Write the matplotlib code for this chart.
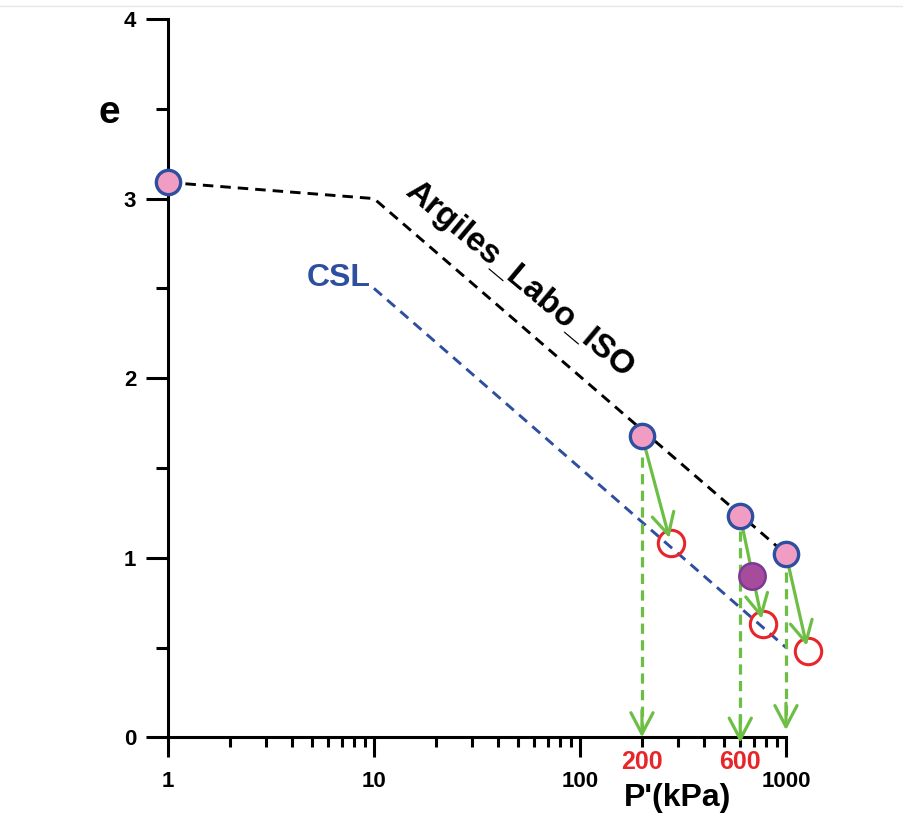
import matplotlib.pyplot as plt
from matplotlib.lines import Line2D

plt.rcParams['font.family'] = ['Liberation Sans', 'DejaVu Sans']
plt.rcParams['font.weight'] = 'bold'

# isotropic compression line (Argiles_Labo_ISO)
iso_p = [1, 10, 1000]
iso_e = [3.09, 3.0, 1.02]
# critical state line
csl_p = [10, 1000]
csl_e = [2.5, 0.5]
# consolidation states (pink)
cons_p = [1, 200, 600, 1000]
cons_e = [3.09, 1.68, 1.23, 1.02]
# end of shear (red open circles)
end_p = [276, 772, 1278]
end_e = [1.08, 0.63, 0.48]
# extra point (purple)
extra_p = [682]
extra_e = [0.90]
# dashed projections to the p axis
proj_p = [200, 600, 1000]
proj_top = [1.56, 1.15, 0.92]
proj_tip = [0.0, -0.03, 0.04]
proj_labels = ['200', '600']

xticks = [1, 10, 100, 1000]
xticklabels = ['1', '10', '100', '1000']
yticks = [0, 1, 2, 3, 4]

green = '#6DBE45'
blue = '#2E4FA0'
red = '#E8262A'
head = '->,head_length=0.8,head_width=0.42'

fig = plt.figure(figsize=(9.04, 8.16), dpi=100)
ax = fig.add_axes([0.1858, 0.09645, 0.68363, 0.88027])
ax.set_xscale('log')
ax.set_xlim(1, 1000)
ax.set_ylim(0, 4)

ax.plot(iso_p, iso_e, color='black', lw=2.1, ls=(0, (3.6, 2.4)), clip_on=False, zorder=2)
ax.plot(csl_p, csl_e, color=blue, lw=2.1, ls=(0, (3.6, 2.4)), clip_on=False, zorder=2)

# vertical dashed projections
for p, top, tip in zip(proj_p, proj_top, proj_tip):
    ax.plot([p, p], [top, tip + 0.03], color=green, lw=2.3, ls=(0, (3.2, 2.0)),
            clip_on=False, zorder=3)
    ax.annotate('', xy=(p, tip), xytext=(p, tip + 0.15), annotation_clip=False,
                arrowprops=dict(arrowstyle=head, mutation_scale=19, color=green, lw=2.3,
                                shrinkA=0, shrinkB=0), zorder=3)

# shear paths
for p0, e0, p1, e1 in zip(cons_p[1:], cons_e[1:], end_p, end_e):
    ax.annotate('', xy=(p1, e1), xytext=(p0, e0), annotation_clip=False,
                arrowprops=dict(arrowstyle=head, mutation_scale=19, color=green, lw=2.3,
                                shrinkA=9, shrinkB=-4), zorder=5)

ax.plot(end_p, end_e, 'o', ms=19, mfc='none', mec=red, mew=2.2, clip_on=False, zorder=4)
ax.plot(extra_p, extra_e, 'o', ms=19, mfc='#A74C9D', mec='#7B3A95', mew=1.8,
        clip_on=False, zorder=6)
ax.plot(cons_p, cons_e, 'o', ms=17.5, mfc='#F19CC3', mec=blue, mew=2.4,
        clip_on=False, zorder=6)

for p, lab in zip(proj_p, proj_labels):
    ax.text(p, -0.135, lab, color=red, fontsize=18, fontweight='bold',
            ha='center', va='center')

fig.text(519 / 904, 1 - 280 / 816, 'Argiles_Labo_ISO', rotation=-40,
         rotation_mode='anchor', fontsize=24, fontweight='bold',
         ha='center', va='center')
ax.text(9.6, 2.56, 'CSL', color=blue, fontsize=23, fontweight='bold',
        ha='right', va='center')

ax.spines['top'].set_visible(False)
ax.spines['right'].set_visible(False)
for s in ['left', 'bottom']:
    ax.spines[s].set_linewidth(2.2)

ax.set_xticks(xticks)
ax.set_xticklabels(xticklabels)
ax.set_yticks(yticks)
ax.set_yticks([0.5, 1.5, 2.5, 3.5], minor=True)
ax.tick_params(axis='x', which='major', length=14.4, width=2.2, pad=10, labelsize=16)
ax.tick_params(axis='x', which='minor', length=7.2, width=2.2)
ax.tick_params(axis='y', which='major', length=15.8, width=2.2, pad=7, labelsize=16)
ax.tick_params(axis='y', which='minor', length=8.6, width=2.2)
for lab in ax.get_xticklabels() + ax.get_yticklabels():
    lab.set_fontweight('bold')

fig.text(109 / 904, 1 - 113 / 816, 'e', fontsize=28, fontweight='bold',
         ha='center', va='center')
fig.text(678 / 904, 1 - 798 / 816, "P'(kPa)", fontsize=23, fontweight='bold',
         ha='center', va='center')

fig.add_artist(Line2D([0, 1], [1 - 6 / 816, 1 - 6 / 816], color='#E6E6E6', lw=1))

fig.savefig('out.png', dpi=100)
